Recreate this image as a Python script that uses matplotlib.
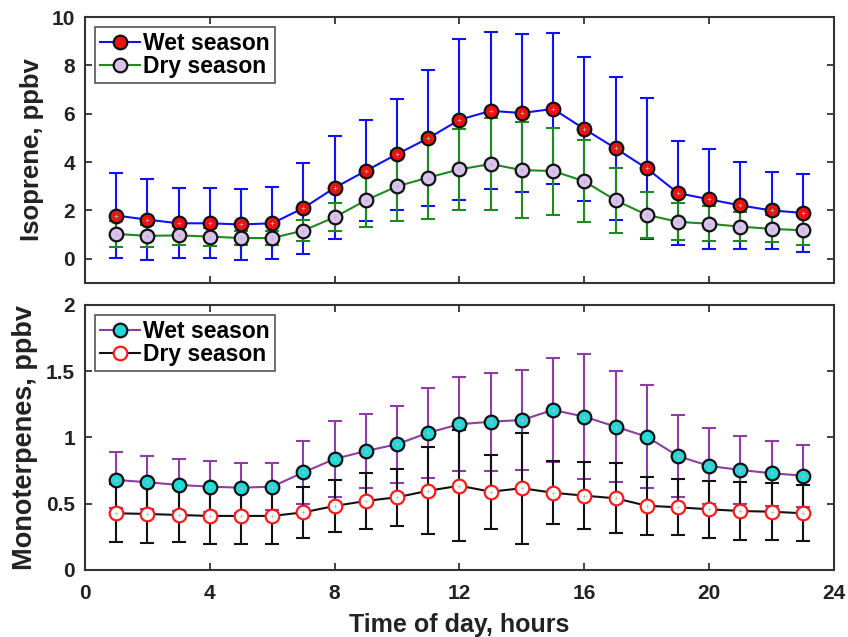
import matplotlib
matplotlib.use("Agg")
import matplotlib.pyplot as plt
import numpy as np

plt.rcParams['font.family'] = ['Liberation Sans', 'DejaVu Sans']
plt.rcParams['font.weight'] = 'bold'

hours = list(range(1, 24))

iso_wet = [1.79, 1.62, 1.47, 1.47, 1.42, 1.47, 2.10, 2.94, 3.64, 4.33, 4.99, 5.75,
           6.12, 6.03, 6.20, 5.37, 4.57, 3.74, 2.72, 2.46, 2.21, 2.00, 1.90]
iso_wet_sd = [1.75, 1.67, 1.45, 1.45, 1.45, 1.49, 1.88, 2.12, 2.09, 2.29, 2.80, 3.32,
              3.25, 3.27, 3.12, 2.96, 2.95, 2.92, 2.14, 2.07, 1.80, 1.60, 1.62]
iso_dry = [1.03, 0.95, 0.97, 0.92, 0.86, 0.86, 1.17, 1.72, 2.42, 3.00, 3.36, 3.70,
           3.92, 3.67, 3.63, 3.21, 2.42, 1.82, 1.53, 1.45, 1.33, 1.24, 1.18]
iso_dry_sd = [0.54, 0.46, 0.38, 0.37, 0.30, 0.30, 0.45, 0.58, 1.10, 1.45, 1.70, 1.68,
              1.90, 2.00, 1.80, 1.70, 1.35, 0.95, 0.77, 0.72, 0.60, 0.56, 0.59]

mono_wet = [0.680, 0.662, 0.642, 0.629, 0.621, 0.629, 0.737, 0.838, 0.898, 0.949, 1.036, 1.100,
            1.119, 1.132, 1.208, 1.157, 1.082, 1.006, 0.860, 0.785, 0.755, 0.730, 0.712]
mono_wet_sd = [0.21, 0.20, 0.196, 0.19, 0.19, 0.18, 0.24, 0.29, 0.28, 0.29, 0.34, 0.356,
               0.37, 0.38, 0.39, 0.47, 0.42, 0.39, 0.31, 0.285, 0.257, 0.247, 0.233]
mono_dry = [0.428, 0.423, 0.415, 0.408, 0.408, 0.408, 0.435, 0.483, 0.521, 0.549, 0.598, 0.636,
            0.591, 0.617, 0.583, 0.561, 0.541, 0.485, 0.473, 0.458, 0.445, 0.440, 0.428]
mono_dry_sd = [0.22, 0.217, 0.206, 0.21, 0.21, 0.21, 0.193, 0.198, 0.21, 0.214, 0.33, 0.42,
               0.28, 0.42, 0.238, 0.253, 0.264, 0.22, 0.21, 0.213, 0.22, 0.214, 0.21]

FS = 15
LFS = 16.5

fig = plt.figure(figsize=(8.48, 6.37), dpi=100)
ax1 = fig.add_axes([0.1002, 0.5557, 0.8833, 0.4176])
ax2 = fig.add_axes([0.1002, 0.1052, 0.8833, 0.4160])

ms = 9.8
mew = 1.6
lw = 1.5
cap = 4.8

def series(ax, y, sd, lcolor, face, edge, label):
    ax.errorbar(hours, y, yerr=sd, fmt='none', ecolor=lcolor, elinewidth=lw,
                capsize=cap, capthick=lw, zorder=2)
    ax.plot(hours, y, '-', color=lcolor, lw=lw, marker='o', markersize=ms,
            markerfacecolor=face, markeredgecolor=edge, markeredgewidth=mew,
            label=label, zorder=3)
    ax.plot(hours, y, '+', color='#b8b8b8', markersize=3.5, markeredgewidth=0.5, zorder=3)

series(ax1, iso_wet, iso_wet_sd, '#1010ff', '#ee1111', '#111111', 'Wet season')
series(ax1, iso_dry, iso_dry_sd, '#1e8a1e', '#d9c3ee', '#111111', 'Dry season')
series(ax2, mono_wet, mono_wet_sd, '#8e3ca6', '#22d8d8', '#111111', 'Wet season')
series(ax2, mono_dry, mono_dry_sd, '#111111', '#ffffff', '#ff1a1a', 'Dry season')

for ax in (ax1, ax2):
    ax.set_xlim(0, 24)
    ax.set_xticks([0, 4, 8, 12, 16, 20, 24])
    ax.tick_params(direction='in', top=True, right=True, length=5, width=1.2,
                   labelsize=FS, colors='#222222', pad=7)
    ax.tick_params(axis='x', pad=10)
    for lab in ax.get_xticklabels() + ax.get_yticklabels():
        lab.set_fontweight('bold')
    for sp in ax.spines.values():
        sp.set_linewidth(1.5)
        sp.set_color('#333333')
    leg = ax.legend(loc='upper left', prop={'weight': 'bold', 'size': LFS},
                    handlelength=1.75, handletextpad=0.15, borderpad=0.2,
                    labelspacing=0.02, fancybox=False, framealpha=1,
                    borderaxespad=0.45)
    leg.get_frame().set_edgecolor('#555555')
    leg.get_frame().set_linewidth(1.2)

ax1.set_ylim(-1, 10)
ax1.set_yticks([0, 2, 4, 6, 8, 10])
ax1.set_xticklabels([])
ax1.set_ylabel('Isoprene, ppbv', fontsize=18.5, fontweight='bold', color='#222222')
ax1.yaxis.set_label_coords(-0.055, 0.5)

ax2.set_ylim(0, 2)
ax2.set_yticks([0, 0.5, 1, 1.5, 2])
ax2.set_yticklabels(['0', '0.5', '1', '1.5', '2'])
ax2.set_ylabel('Monoterpenes, ppbv', fontsize=19.5, fontweight='bold', color='#222222')
ax2.yaxis.set_label_coords(-0.063, 0.5)
ax2.set_xlabel('Time of day, hours', fontsize=18, fontweight='bold', color='#222222',
               labelpad=7)

fig.savefig('out.png', dpi=100)
